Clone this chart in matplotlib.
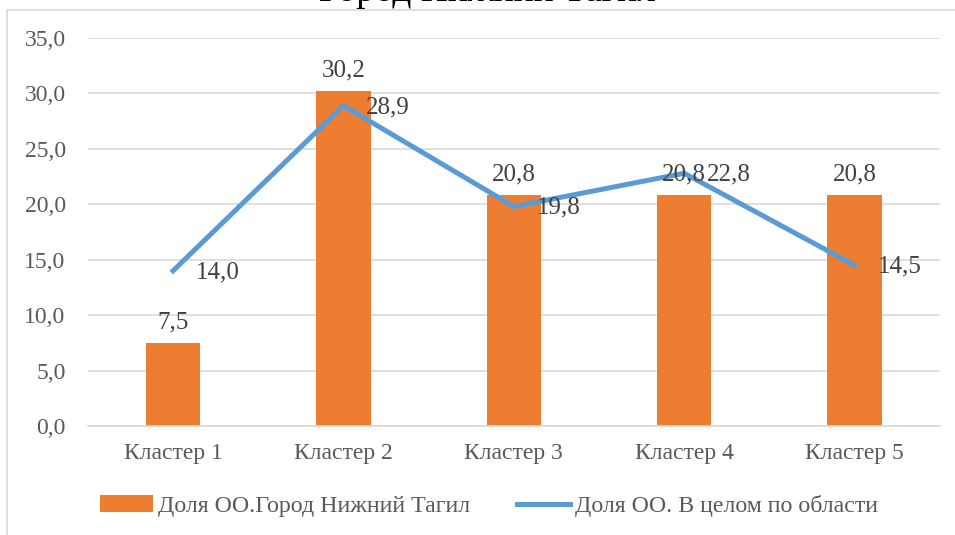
import matplotlib

matplotlib.use("Agg")
import matplotlib.pyplot as plt
from matplotlib.patches import Rectangle
from matplotlib.lines import Line2D
from matplotlib.patches import Patch

plt.rcParams["font.family"] = ["Liberation Serif", "DejaVu Serif"]

# данные
categories = ["Кластер 1", "Кластер 2", "Кластер 3", "Кластер 4", "Кластер 5"]
tagil_share = [7.5, 30.2, 20.8, 20.8, 20.8]
region_share = [14.0, 28.9, 19.8, 22.8, 14.5]
y_ticks = [0, 5, 10, 15, 20, 25, 30, 35]

BAR_COLOR = "#ED7D31"
LINE_COLOR = "#5B9BD5"
GRID_COLOR = "#D9D9D9"
TICK_COLOR = "#595959"
LABEL_COLOR = "#404040"


def fmt(v):
    return f"{v:.1f}".replace(".", ",")


fig = plt.figure(figsize=(9.55, 5.35), dpi=100)
ax = fig.add_axes([0.092, 0.2037, 0.892, 0.7253])

# рамка области диаграммы (обрезана справа и снизу)
fig.patches.append(Rectangle((7 / 955, -0.1), 1.1, 1.1 - 10 / 535,
                             transform=fig.transFigure, fill=False,
                             edgecolor=GRID_COLOR, linewidth=1.2))

x = list(range(len(categories)))
ax.bar(x, tagil_share, width=0.32, color=BAR_COLOR, zorder=2)
ax.plot(x, region_share, color=LINE_COLOR, linewidth=3.6, zorder=3,
        solid_joinstyle="miter")

for xi, v in zip(x, tagil_share):
    ax.annotate(fmt(v), (xi, v), xytext=(0, 7), textcoords="offset points",
                ha="center", va="bottom", fontsize=18, color=LABEL_COLOR, zorder=4)
for xi, v in zip(x, region_share):
    ax.annotate(fmt(v), (xi, v), xytext=(16.5, -1), textcoords="offset points",
                ha="left", va="center", fontsize=18, color=LABEL_COLOR, zorder=4)

ax.set_xlim(-0.5, len(categories) - 0.5)
ax.set_ylim(0, 35)
ax.set_yticks(y_ticks)
ax.set_yticklabels([fmt(t) for t in y_ticks])
ax.set_xticks(x)
ax.set_xticklabels(categories)
ax.tick_params(length=0, colors=TICK_COLOR, labelsize=17)
ax.tick_params(axis="y", pad=16)
ax.tick_params(axis="x", pad=12)
ax.grid(axis="y", color=GRID_COLOR, linewidth=1.2, zorder=0)
ax.set_axisbelow(True)
for side in ["top", "right", "left"]:
    ax.spines[side].set_visible(False)
ax.spines["bottom"].set_color(GRID_COLOR)
ax.spines["bottom"].set_linewidth(1.2)

fig.text(0.5105, 1 - 1 / 535, "Город Нижний Тагил", ha="center", va="baseline",
         fontsize=27, color="black")

handles = [Patch(facecolor=BAR_COLOR, edgecolor="none"),
           Line2D([0], [0], color=LINE_COLOR, linewidth=3.6)]
fig.legend(handles, ["Доля ОО.Город Нижний Тагил", "Доля ОО. В целом по области"],
           loc="center", bbox_to_anchor=(0.512, 1 - 506 / 535), ncol=2, frameon=False,
           fontsize=17.2, labelcolor=TICK_COLOR, handlelength=2.2, handletextpad=0.2,
           columnspacing=2.0, handleheight=0.7)

fig.savefig("out.png", dpi=100)
